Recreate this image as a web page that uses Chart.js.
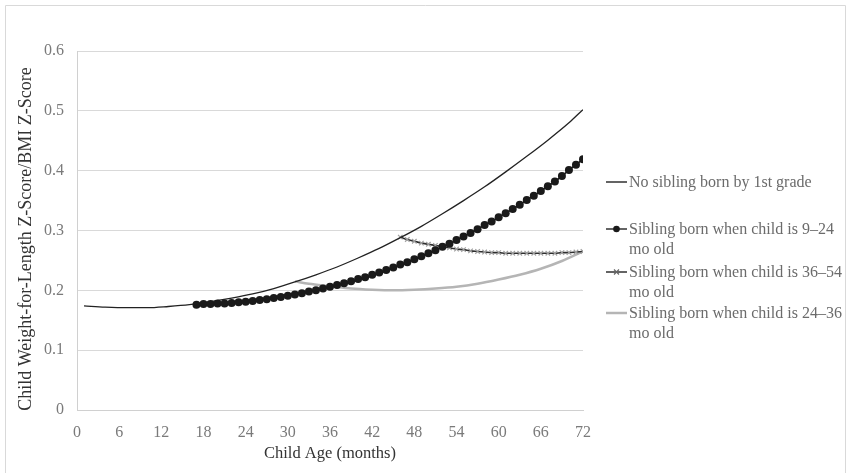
<!DOCTYPE html>
<html>
<head>
<meta charset="utf-8">
<script src="https://cdn.jsdelivr.net/npm/chart.js@4.4.1/dist/chart.umd.min.js"></script>
<style>
  html, body { margin: 0; padding: 0; background: #fff; }
  #wrap { position: relative; width: 847px; height: 473px; }
  #legend {
    position: absolute; left: 606px; top: 172px; width: 238px;
    font-family: 'Liberation Serif', 'Times New Roman', serif;
    font-size: 16px; color: #6b6b6b; line-height: 20px;
  }
  .item { display: flex; align-items: flex-start; white-space: nowrap; }
  .item svg { flex: none; margin-top: 5px; margin-right: 2px; }
  .item span { display: block; }
</style>
</head>
<body>
<div id="wrap">
  <canvas id="chart" width="847" height="473"></canvas>
  <div id="legend"></div>
</div>
<script>
// Child age in months, x axis ticks
const xTicks = [0, 6, 12, 18, 24, 30, 36, 42, 48, 54, 60, 66, 72];
const yTickLabels = ['0', '0.1', '0.2', '0.3', '0.4', '0.5', '0.6'];

// No sibling born by 1st grade
const noSibMonths = [1, 4, 7, 10, 13, 16, 19, 22, 25, 28, 31, 34, 37, 40, 43, 46, 49, 52, 55, 58, 61, 64, 67, 70, 72];
const noSibValues = [0.174, 0.172, 0.171, 0.171, 0.173, 0.176, 0.181, 0.187, 0.194, 0.203, 0.214, 0.226, 0.239, 0.254,
  0.270, 0.288, 0.307, 0.328, 0.350, 0.373, 0.398, 0.424, 0.451, 0.480, 0.502];

// Sibling born when child is 9-24 mo old (one marker per month, 17..72)
const sib9Months = [17, 18, 19, 20, 21, 22, 23, 24, 25, 26, 27, 28, 29, 30, 31, 32, 33, 34, 35, 36, 37, 38, 39, 40,
  41, 42, 43, 44, 45, 46, 47, 48, 49, 50, 51, 52, 53, 54, 55, 56, 57, 58, 59, 60, 61, 62, 63, 64, 65, 66, 67, 68,
  69, 70, 71, 72];
const sib9Values = [0.176, 0.177, 0.177, 0.178, 0.178, 0.179, 0.180, 0.181, 0.182, 0.184, 0.185, 0.187, 0.189, 0.191,
  0.193, 0.195, 0.198, 0.200, 0.203, 0.206, 0.209, 0.212, 0.215, 0.219, 0.222, 0.226, 0.230, 0.234, 0.238, 0.243,
  0.247, 0.252, 0.257, 0.262, 0.267, 0.273, 0.278, 0.284, 0.290, 0.296, 0.302, 0.309, 0.315, 0.322, 0.329, 0.336,
  0.343, 0.351, 0.358, 0.366, 0.374, 0.382, 0.391, 0.401, 0.410, 0.419];

// Sibling born when child is 36-54 mo old (46..72)
const sib36Months = [46, 47, 48, 49, 50, 51, 52, 53, 54, 55, 56, 57, 58, 59, 60, 61, 62, 63, 64, 65, 66, 67, 68, 69, 70, 71, 72];
const sib36Values = [0.289, 0.285, 0.282, 0.279, 0.277, 0.275, 0.273, 0.271, 0.269, 0.268, 0.266, 0.265, 0.264, 0.263,
  0.263, 0.262, 0.262, 0.262, 0.262, 0.262, 0.262, 0.262, 0.262, 0.263, 0.263, 0.264, 0.265];

// Sibling born when child is 24-36 mo old
const sib24Months = [31, 33, 36, 39, 42, 45, 48, 51, 54, 57, 60, 63, 66, 69, 72];
const sib24Values = [0.215, 0.211, 0.207, 0.203, 0.201, 0.200, 0.201, 0.203, 0.206, 0.211, 0.218, 0.226, 0.236, 0.249, 0.265];

const seriesLabels = [
  'No sibling born by 1st grade',
  'Sibling born when child is 9\u201324 mo old',
  'Sibling born when child is 36\u201354 mo old',
  'Sibling born when child is 24\u201336 mo old'
];
const yTitle = 'Child Weight-for-Length Z-Score/BMI Z-Score';

const FONT = "'Liberation Serif', 'Times New Roman', serif";

function toPoints(xs, ys) {
  return xs.map((x, i) => ({ x: x, y: ys[i] }));
}

// light frame around the whole chart + the rotated y title
const framePlugin = {
  id: 'frame',
  beforeDraw(chart) {
    const ctx = chart.ctx;
    ctx.save();
    ctx.strokeStyle = '#d9d9d9';
    ctx.lineWidth = 1;
    ctx.beginPath();
    ctx.moveTo(5.5, 480);
    ctx.lineTo(5.5, 5.5);
    ctx.lineTo(845.5, 5.5);
    ctx.lineTo(845.5, 480);
    ctx.stroke();

    ctx.translate(26, 239);
    ctx.rotate(-Math.PI / 2);
    ctx.fillStyle = '#333333';
    ctx.font = "18px " + FONT;
    ctx.textAlign = 'center';
    ctx.textBaseline = 'middle';
    ctx.fillText(yTitle, 0, 0);
    ctx.restore();
  }
};

const chart = new Chart(document.getElementById('chart').getContext('2d'), {
  type: 'line',
  data: {
    datasets: [
      {
        label: seriesLabels[0],
        data: toPoints(noSibMonths, noSibValues),
        borderColor: '#222222',
        borderWidth: 1.3,
        pointRadius: 0,
        cubicInterpolationMode: 'monotone',
        order: 1
      },
      {
        label: seriesLabels[1],
        data: toPoints(sib9Months, sib9Values),
        borderColor: '#1a1a1a',
        borderWidth: 1.5,
        pointRadius: 4,
        pointBackgroundColor: '#1a1a1a',
        pointBorderColor: '#1a1a1a',
        pointBorderWidth: 0,
        cubicInterpolationMode: 'monotone',
        order: 0
      },
      {
        label: seriesLabels[2],
        data: toPoints(sib36Months, sib36Values),
        borderColor: '#2e2e2e',
        borderWidth: 1.6,
        pointStyle: 'crossRot',
        pointRadius: 3.2,
        pointBorderColor: '#a0a0a0',
        pointBorderWidth: 1.2,
        cubicInterpolationMode: 'monotone',
        order: 2
      },
      {
        label: seriesLabels[3],
        data: toPoints(sib24Months, sib24Values),
        borderColor: '#b5b5b5',
        borderWidth: 2.5,
        pointRadius: 0,
        cubicInterpolationMode: 'monotone',
        order: 3
      }
    ]
  },
  options: {
    responsive: false,
    animation: false,
    layout: { padding: { left: 0, right: 264, top: 51, bottom: 0 } },
    plugins: {
      legend: { display: false },
      tooltip: { enabled: false }
    },
    scales: {
      x: {
        type: 'linear',
        min: 0,
        max: 72,
        afterBuildTicks: (scale) => { scale.ticks = xTicks.map(v => ({ value: v })); },
        afterFit: (scale) => { scale.height = 473 - 410; },
        grid: { display: false, drawTicks: false },
        border: { display: true, color: '#d0d0d0', width: 1 },
        ticks: {
          padding: 13,
          color: '#7a7a7a',
          font: { family: FONT, size: 16 },
          maxRotation: 0,
          autoSkip: false
        },
        title: {
          display: true,
          text: 'Child Age (months)',
          color: '#333333',
          font: { family: FONT, size: 16.5 },
          padding: { top: 9, bottom: 9 }
        }
      },
      y: {
        min: 0,
        max: 0.6,
        afterBuildTicks: (scale) => { scale.ticks = yTickLabels.map(t => ({ value: parseFloat(t) })); },
        afterFit: (scale) => { scale.width = 77; },
        grid: { color: '#d9d9d9', lineWidth: 1, drawTicks: false },
        border: { display: true, color: '#d0d0d0', width: 1 },
        ticks: {
          padding: 13,
          color: '#7a7a7a',
          font: { family: FONT, size: 16 },
          callback: (value, index) => yTickLabels[index]
        },
        title: { display: false }
      }
    }
  },
  plugins: [framePlugin]
});

// html legend built from the dataset labels
function sampleSvg(i) {
  let s = '<svg width="21" height="10" viewBox="0 0 21 10">';
  if (i === 3) {
    s += '<line x1="0" y1="5" x2="21" y2="5" stroke="#b5b5b5" stroke-width="2.5"/>';
  } else {
    s += '<line x1="0" y1="5" x2="21" y2="5" stroke="#222" stroke-width="1.4"/>';
  }
  if (i === 1) s += '<circle cx="10.5" cy="5" r="3.3" fill="#1a1a1a"/>';
  if (i === 2) s += '<path d="M8 2.5 L13 7.5 M13 2.5 L8 7.5" stroke="#666" stroke-width="1.2"/>';
  return s + '</svg>';
}

const legendTops = [0, 47, 90, 131];
document.getElementById('legend').innerHTML = seriesLabels.map((label, i) => {
  let text = label;
  if (i > 0) text = label.replace(' mo old', '<br>mo old');
  return `<div class="item" style="position:absolute; top:${legendTops[i]}px; left:0;">${sampleSvg(i)}<span>${text}</span></div>`;
}).join('');
</script>
</body>
</html>
